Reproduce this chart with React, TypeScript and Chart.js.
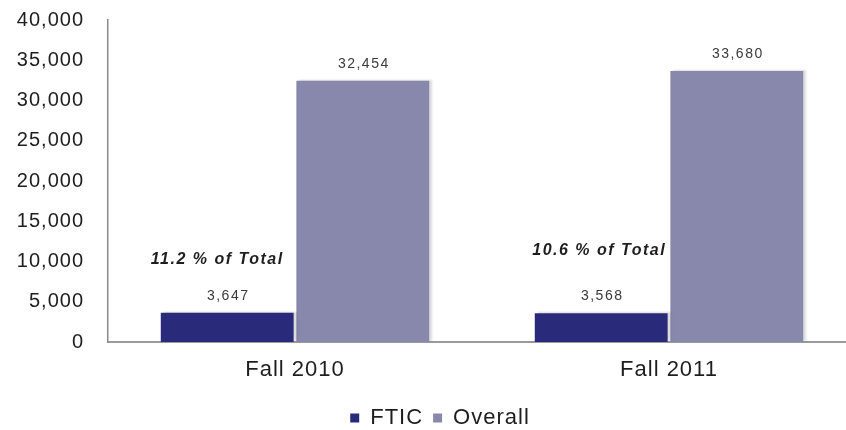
import React, { useEffect, useRef } from "react";
import { Chart, registerables } from "chart.js";

Chart.register(...registerables);

const categories = ["Fall 2010", "Fall 2011"];
const fticValues = [3647, 3568];
const overallValues = [32454, 33680];
const shareLabels = ["11.2 % of Total", "10.6 % of Total"];
const yMin = 0;
const yMax = 40000;
const yStep = 5000;

const fmt = (v: number) => v.toLocaleString("en-US");
const FONT = "Arial, 'Liberation Sans', sans-serif";

const spacingPlugin = {
  id: "spacing",
  beforeUpdate(chart: any) {
    (chart.ctx as any).letterSpacing = "1px";
  },
  beforeDraw(chart: any) {
    (chart.ctx as any).letterSpacing = "1px";
  },
  afterLayout(chart: any) {
    const lg = chart.legend;
    if (lg) {
      lg.left += 12;
      lg.right += 12;
    }
  },
};

const shadowPlugin = {
  id: "barShadow",
  beforeDatasetsDraw(chart: any) {
    const ctx = chart.ctx;
    ctx.save();
    ctx.shadowColor = "rgba(0,0,0,0.14)";
    ctx.shadowOffsetX = 3;
    ctx.shadowOffsetY = -1;
    ctx.shadowBlur = 2;
  },
  afterDatasetsDraw(chart: any) {
    chart.ctx.restore();
  },
};

const labelPlugin = {
  id: "valueLabels",
  afterDatasetsDraw(chart: any) {
    const ctx = chart.ctx;
    ctx.save();
    ctx.textAlign = "center";
    ctx.textBaseline = "middle";
    (ctx as any).letterSpacing = "1.5px";
    chart.data.datasets.forEach((ds: any, di: number) => {
      const meta = chart.getDatasetMeta(di);
      meta.data.forEach((bar: any, i: number) => {
        ctx.font = `14px ${FONT}`;
        ctx.fillStyle = "#3a3a3a";
        ctx.fillText(fmt(ds.data[i]), bar.x + 1, bar.y - 17);
      });
    });
    // share annotations above the FTIC bars
    const shareDx = [-10, -2];
    const shareDy = [53, 63];
    const meta0 = chart.getDatasetMeta(0);
    meta0.data.forEach((bar: any, i: number) => {
      ctx.font = `italic bold 16px ${FONT}`;
      ctx.fillStyle = "#1e1e1e";
      ctx.fillText(shareLabels[i], bar.x + shareDx[i], bar.y - shareDy[i]);
    });
    ctx.restore();
  },
};

export default function App() {
  const ref = useRef<HTMLCanvasElement | null>(null);

  useEffect(() => {
    if (!ref.current) return;
    const chart = new Chart(ref.current, {
      type: "bar",
      data: {
        labels: categories,
        datasets: [
          {
            label: "FTIC",
            data: fticValues,
            backgroundColor: "#2a2a7a",
            borderWidth: 0,
            categoryPercentage: 0.725,
            barPercentage: 0.98,
          },
          {
            label: "Overall",
            data: overallValues,
            backgroundColor: "#8888ad",
            borderWidth: 0,
            categoryPercentage: 0.725,
            barPercentage: 0.98,
          },
        ],
      },
      options: {
        responsive: false,
        animation: false,
        devicePixelRatio: 1,
        layout: { padding: { top: 20, left: 0, right: 0, bottom: -9 } },
        scales: {
          x: {
            grid: { display: false, drawTicks: false },
            border: { display: true, color: "#9a9a9a", width: 2 },
            ticks: {
              color: "#1e1e1e",
              padding: 15,
              font: { family: FONT, size: 22 },
            },
            afterFit(scale: any) {
              scale.height = 55;
            },
          },
          y: {
            min: yMin,
            max: yMax,
            grid: { display: false, drawTicks: true, tickLength: 24 },
            border: { display: true, color: "#8a8a8a", width: 1.5 },
            ticks: {
              stepSize: yStep,
              color: "#1e1e1e",
              padding: 0,
              font: { family: FONT, size: 20 },
              callback: (v: any) => fmt(Number(v)),
            },
            afterFit(scale: any) {
              scale.width = 108;
            },
          },
        },
        plugins: {
          legend: {
            position: "bottom",
            labels: {
              boxWidth: 9,
              boxHeight: 9,
              padding: 10,
              color: "#1e1e1e",
              font: { family: FONT, size: 22, lineHeight: 1 },
            },
          },
          tooltip: { enabled: false },
        },
      },
      plugins: [spacingPlugin, shadowPlugin, labelPlugin],
    });
    return () => chart.destroy();
  }, []);

  return (
    <div
      style={{
        position: "fixed",
        left: 0,
        top: 0,
        width: 846,
        height: 430,
        overflow: "hidden",
        background: "#ffffff",
      }}
    >
      <canvas ref={ref} width={856} height={430} />
    </div>
  );
}
